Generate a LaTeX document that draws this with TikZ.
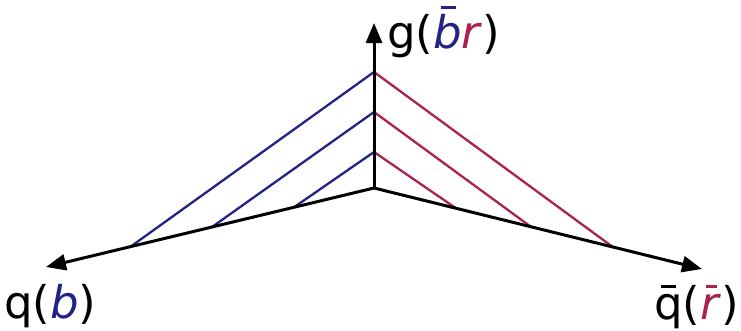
\documentclass[tikz,border=0pt]{standalone}
\usepackage{fontspec}
\setmainfont{DejaVu Sans}
\usetikzlibrary{calc,arrows.meta}
\definecolor{qblue}{RGB}{35,35,135}
\definecolor{qred}{RGB}{170,35,75}
\newcommand\barred[3][0pt]{{\setbox0\hbox{#3}\rlap{\hbox to\wd0{\hss\kern#1\raisebox{#2}{\rule{0.55\wd0}{0.07em}}\hss}}\box0}}
\begin{document}
\begin{tikzpicture}[x=1pt,y=-1pt,
  axis/.style={line width=3pt,-{Triangle[length=20pt,width=16pt]}},
  bl/.style={qblue,line width=2.3pt},
  rd/.style={qred,line width=2.3pt},
  lab/.style={font=\fontsize{45}{50}\selectfont,inner sep=0pt,anchor=base west}]
\useasboundingbox (0,0) rectangle (741,330);
\coordinate (O) at (374,188);
\coordinate (T) at (374,23);
\coordinate (L) at (46,267);
\coordinate (R) at (702,269);
\coordinate (v1) at (374,72);
\coordinate (v2) at (374,112);
\coordinate (v3) at (374,152);
\coordinate (l1) at ($(O)!0.742!(L)$);
\coordinate (l2) at ($(O)!0.494!(L)$);
\coordinate (l3) at ($(O)!0.244!(L)$);
\coordinate (r1) at ($(O)!0.728!(R)$);
\coordinate (r2) at ($(O)!0.478!(R)$);
\coordinate (r3) at ($(O)!0.250!(R)$);
\draw[bl] (v1) -- (l1);
\draw[bl] (v2) -- (l2);
\draw[bl] (v3) -- (l3);
\draw[rd] (v1) -- (r1);
\draw[rd] (v2) -- (r2);
\draw[rd] (v3) -- (r3);
\draw[axis] (O) -- (T);
\draw[axis] (O) -- (L);
\draw[axis] (O) -- (R);
\node[lab] (g) at (387,48) {g({\color{qblue}\barred[2pt]{0.86em}{\textit{b}}}\textcolor{qred}{\textit{r}})};
\node[lab] (q) at (4,318) {q(\textcolor{qblue}{\textit{b}})};
\node[lab] (qb) at (654,319) {\barred{0.68em}{q}({\color{qred}\barred[2pt]{0.68em}{\textit{r}}})};
\end{tikzpicture}
\end{document}
